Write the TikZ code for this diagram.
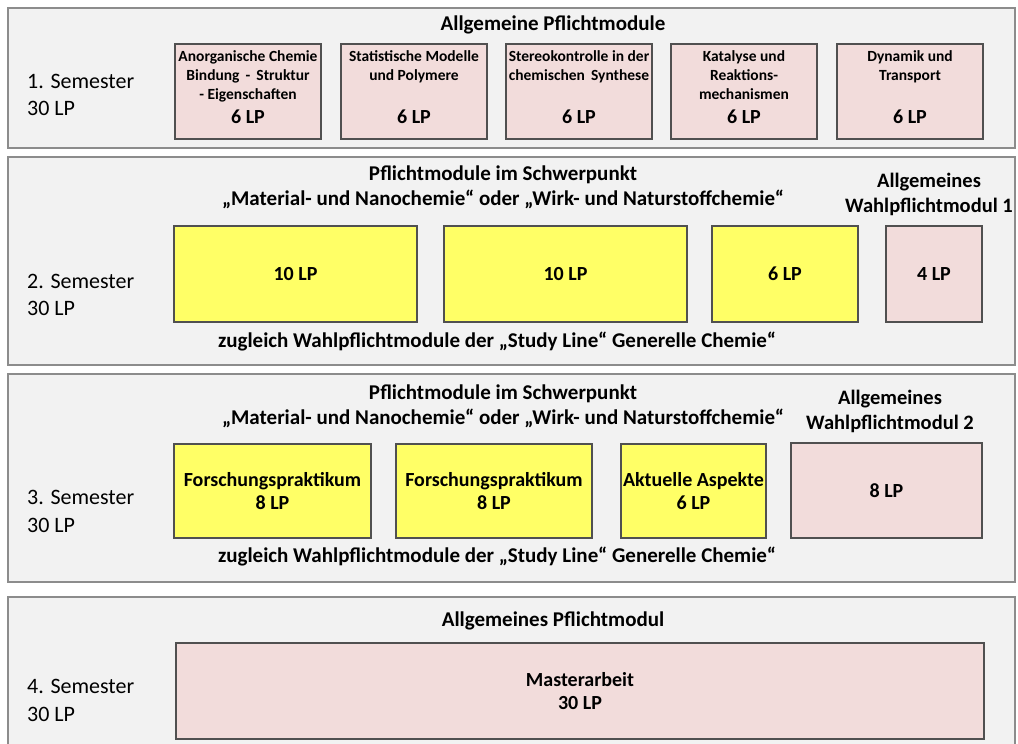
\documentclass[tikz,border=0pt]{standalone}
\usepackage{fontspec}
\setmainfont{Carlito}
\definecolor{rowfill}{HTML}{F2F2F2}
\definecolor{rowline}{HTML}{8C8C8C}
\definecolor{pinkfill}{HTML}{F2DCDB}
\definecolor{yellowfill}{HTML}{FFFF66}
\definecolor{boxline}{HTML}{505050}
\tikzset{
  rowbox/.style={draw=rowline, fill=rowfill, line width=1.6pt},
  modbox/.style={draw=boxline, line width=1.1pt, inner sep=0pt, align=center, font=\bfseries\fontsize{20}{23}\selectfont},
  pinkbox/.style={modbox, fill=pinkfill},
  yellowbox/.style={modbox, fill=yellowfill},
  semlabel/.style={anchor=west, inner sep=0pt, font=\fontsize{22}{26}\selectfont},
  headtxt/.style={inner sep=0pt, font=\bfseries\fontsize{21}{25}\selectfont, align=center},
  sidehead/.style={inner sep=0pt, font=\bfseries\fontsize{20.5}{25}\selectfont, align=center},
  smalltxt/.style={inner sep=0pt, font=\bfseries\fontsize{15.5}{19}\selectfont, align=center},
  lptxt/.style={inner sep=0pt, font=\bfseries\fontsize{20}{23}\selectfont, align=center},
}
\begin{document}
\begin{tikzpicture}[x=1pt,y=-1pt]
\useasboundingbox (0,0) rectangle (1018,744);
\clip (0,0) rectangle (1018,744);
\fill[white] (0,0) rectangle (1018,744);
% rows
\draw[rowbox] (8,8) rectangle (1015,148);
\draw[rowbox] (8,157) rectangle (1015,365);
\draw[rowbox] (8,374) rectangle (1015,582);
\draw[rowbox] (8,597) rectangle (1015,760);

% ---------- Row 1
\node[semlabel] (s1a) at (27,81) {1. Semester};
\node[semlabel] (s1b) at (27,108) {30 LP};
\node[headtxt] (h1) at (553,25) {Allgemeine Pflichtmodule};
\node[pinkbox, minimum width=146pt, minimum height=95pt] (m11) at (248,91.5) {};
\node[pinkbox, minimum width=146pt, minimum height=95pt] (m12) at (414,91.5) {};
\node[pinkbox, minimum width=146pt, minimum height=95pt] (m13) at (579,91.5) {};
\node[pinkbox, minimum width=146pt, minimum height=95pt] (m14) at (744,91.5) {};
\node[pinkbox, minimum width=146pt, minimum height=95pt] (m15) at (910,91.5) {};
\node[smalltxt, anchor=north] (t11) at (248,50) {Anorganische Chemie\\Bindung \,-\, Struktur\\- Eigenschaften};
\node[smalltxt, anchor=north] (t12) at (414,50) {Statistische Modelle\\und Polymere};
\node[smalltxt, anchor=north] (t13) at (579,50) {Stereokontrolle in der\\chemischen \,Synthese};
\node[smalltxt, anchor=north] (t14) at (744,50) {Katalyse und\\Reaktions-\\mechanismen};
\node[smalltxt, anchor=north] (t15) at (910,50) {Dynamik und\\Transport};
\foreach \i/\x in {1/248,2/414,3/579,4/744,5/910}
  \node[lptxt] (l1\i) at (\x,117) {6 LP};

% ---------- Row 2
\node[semlabel] (s2a) at (27,281) {2. Semester};
\node[semlabel] (s2b) at (27,308) {30 LP};
\node[headtxt] (h2) at (503,187) {Pflichtmodule im Schwerpunkt\\„Material- und Nanochemie“ oder „Wirk- und Naturstoffchemie“};
\node[sidehead] (h2b) at (929,194) {Allgemeines\\Wahlpflichtmodul 1};
\node[yellowbox, minimum width=243pt, minimum height=96pt] (m21) at (295.5,274) {10 LP};
\node[yellowbox, minimum width=243pt, minimum height=96pt] (m22) at (565.5,274) {10 LP};
\node[yellowbox, minimum width=146pt, minimum height=96pt] (m23) at (785,274) {6 LP};
\node[pinkbox, minimum width=96pt, minimum height=96pt] (m24) at (934,274) {4 LP};
\node[headtxt] (f2) at (497,342) {zugleich Wahlpflichtmodule der „Study Line“ Generelle Chemie“};

% ---------- Row 3
\node[semlabel] (s3a) at (27,497) {3. Semester};
\node[semlabel] (s3b) at (27,525) {30 LP};
\node[headtxt] (h3) at (503,406) {Pflichtmodule im Schwerpunkt\\„Material- und Nanochemie“ oder „Wirk- und Naturstoffchemie“};
\node[sidehead] (h3b) at (890,411) {Allgemeines\\Wahlpflichtmodul 2};
\node[yellowbox, minimum width=197pt, minimum height=94pt] (m31) at (272.5,491) {Forschungspraktikum\\8 LP};
\node[yellowbox, minimum width=196pt, minimum height=94pt] (m32) at (494,491) {Forschungspraktikum\\8 LP};
\node[yellowbox, minimum width=145pt, minimum height=94pt] (m33) at (693.5,491) {Aktuelle Aspekte\\6 LP};
\node[pinkbox, minimum width=191pt, minimum height=95pt] (m34) at (886.5,490.5) {8 LP};
\node[headtxt] (f3) at (497,557) {zugleich Wahlpflichtmodule der „Study Line“ Generelle Chemie“};

% ---------- Row 4
\node[semlabel] (s4a) at (27,686) {4. Semester};
\node[semlabel] (s4b) at (27,714) {30 LP};
\node[headtxt] (h4) at (553,621) {Allgemeines Pflichtmodul};
\node[pinkbox, minimum width=808pt, minimum height=96pt] (m41) at (580,691) {Masterarbeit\\30 LP};
\end{tikzpicture}
\end{document}
